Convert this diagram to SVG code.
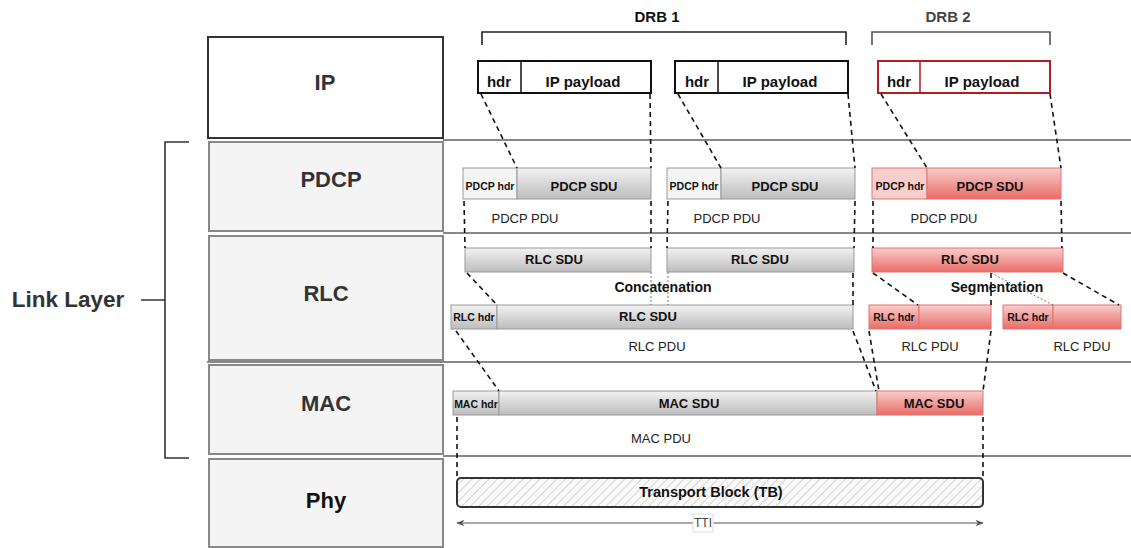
<svg xmlns="http://www.w3.org/2000/svg" width="1131" height="548" viewBox="0 0 1131 548">
<defs>
<linearGradient id="gGray" x1="0" y1="0" x2="0" y2="1"><stop offset="0" stop-color="#f2f2f2"/><stop offset="1" stop-color="#bdbdbd"/></linearGradient>
<linearGradient id="gRed" x1="0" y1="0" x2="0" y2="1"><stop offset="0" stop-color="#f8cecc"/><stop offset="1" stop-color="#ea6b66"/></linearGradient>
<pattern id="hatch" width="6" height="6" patternUnits="userSpaceOnUse" patternTransform="rotate(45)"><rect width="6" height="6" fill="#fafafa"/><line x1="0" y1="0" x2="0" y2="6" stroke="#c8c8c8" stroke-width="1.5"/></pattern>
<marker id="arr" viewBox="0 0 10 10" refX="9" refY="5" markerWidth="7" markerHeight="7" orient="auto-start-reverse"><path d="M0,1 L10,5 L0,9 L3,5 Z" fill="#555"/></marker>
<style>
text{font-family:"Liberation Sans",Arial,sans-serif;text-anchor:middle;dominant-baseline:central;fill:#111}
.layer{fill:#f4f4f4;stroke:#888;stroke-width:2}
.lt{font-size:22px;font-weight:bold;fill:#333}
.sep{stroke:#888;stroke-width:2;fill:none}
.ipbox{fill:#fff;stroke:#111;stroke-width:2}
.ipred{fill:#fff;stroke:#b01e23;stroke-width:2}
.ipt{font-size:15px;font-weight:bold}
.g{fill:url(#gGray);stroke:#999;stroke-width:1}
.gh{fill:#f4f4f4;stroke:#999;stroke-width:1}
.r{fill:url(#gRed);stroke:#e07570;stroke-width:1}
.rh{fill:#f8cecc;stroke:#e07570;stroke-width:1}
.sdu{font-size:13px;font-weight:bold}
.hdr{font-size:10.5px;font-weight:bold}
.pdu{font-size:13px;fill:#222}
.dash{stroke:#111;stroke-width:1.6;stroke-dasharray:5 4;fill:none}
.dot{stroke:#555;stroke-width:0.8;stroke-dasharray:2 2;fill:none}
.brk{fill:none;stroke:#333;stroke-width:1.6}
</style>
</defs>

<g id="separators">
<line class="sep" x1="443" y1="140" x2="1131" y2="140"/>
<line class="sep" x1="443" y1="233" x2="1131" y2="233"/>
<line class="sep" x1="207" y1="362" x2="1131" y2="362"/>
<line class="sep" x1="443" y1="456" x2="1131" y2="456"/>
</g>

<g id="layer-ip"><rect x="208" y="37" width="235" height="101" fill="#fff" stroke="#333" stroke-width="2"/><text class="lt" x="325" y="82">IP</text></g>
<g id="layer-pdcp"><rect class="layer" x="209" y="142" width="234" height="89"/><text class="lt" x="331" y="179">PDCP</text></g>
<g id="layer-rlc"><rect class="layer" x="209" y="236" width="234" height="124"/><text class="lt" x="326" y="293">RLC</text></g>
<g id="layer-mac"><rect class="layer" x="209" y="365" width="234" height="89"/><text class="lt" x="326" y="403">MAC</text></g>
<g id="layer-phy"><rect class="layer" x="209" y="459" width="234" height="88"/><text class="lt" x="326" y="500" style="fill:#111">Phy</text></g>

<g id="link-layer">
<path class="brk" d="M189,142 H165 V458 H189 M141,300 H165"/>
<text x="68" y="299" style="font-size:22.5px;font-weight:bold;fill:#333">Link Layer</text>
</g>

<g id="drb1"><path class="brk" d="M482,45 V32 H846 V45" style="stroke:#222"/><text x="657" y="16" style="font-size:15px;font-weight:bold">DRB 1</text></g>
<g id="drb2"><path class="brk" d="M872,45 V32 H1050 V45" style="stroke:#555"/><text x="948" y="16" style="font-size:15px;font-weight:bold;fill:#444">DRB 2</text></g>

<g id="ip-packets">
<rect class="ipbox" x="478" y="61" width="173" height="32"/><line x1="521" y1="61" x2="521" y2="93" stroke="#111" stroke-width="1.5"/>
<text class="ipt" x="499" y="81">hdr</text><text class="ipt" x="583" y="81">IP payload</text>
<rect class="ipbox" x="675" y="61" width="173" height="32"/><line x1="718" y1="61" x2="718" y2="93" stroke="#111" stroke-width="1.5"/>
<text class="ipt" x="697" y="81">hdr</text><text class="ipt" x="780" y="81">IP payload</text>
<rect class="ipred" x="878" y="61" width="172" height="32"/><line x1="920" y1="61" x2="920" y2="93" stroke="#b01e23" stroke-width="1.5"/>
<text class="ipt" x="899" y="81">hdr</text><text class="ipt" x="982" y="81">IP payload</text>
</g>

<g id="pdcp-pdus">
<rect class="gh" x="463" y="168" width="54" height="31"/><rect class="g" x="517" y="168" width="134" height="31"/>
<text class="hdr" x="490" y="186">PDCP hdr</text><text class="sdu" x="584" y="186">PDCP SDU</text>
<rect class="gh" x="667" y="168" width="54" height="31"/><rect class="g" x="721" y="168" width="134" height="31"/>
<text class="hdr" x="694" y="186">PDCP hdr</text><text class="sdu" x="785" y="186">PDCP SDU</text>
<rect class="rh" x="872" y="168" width="55" height="31"/><rect class="r" x="927" y="168" width="134" height="31"/>
<text class="hdr" x="900" y="186">PDCP hdr</text><text class="sdu" x="990" y="186">PDCP SDU</text>
<text class="pdu" x="525" y="218">PDCP PDU</text>
<text class="pdu" x="727" y="218">PDCP PDU</text>
<text class="pdu" x="944" y="218">PDCP PDU</text>
</g>

<g id="rlc-sdus">
<rect class="g" x="465" y="248" width="186" height="24"/><text class="sdu" x="554" y="259">RLC SDU</text>
<rect class="g" x="667" y="248" width="187" height="24"/><text class="sdu" x="760" y="259">RLC SDU</text>
<rect class="r" x="872" y="248" width="191" height="24"/><text class="sdu" x="970" y="259">RLC SDU</text>
<text x="663" y="287" style="font-size:14px;font-weight:bold">Concatenation</text>
<text x="997" y="287" style="font-size:14px;font-weight:bold">Segmentation</text>
</g>

<g id="rlc-pdus">
<rect class="g" x="451" y="305" width="46" height="24"/><rect class="g" x="497" y="305" width="356" height="24"/>
<text class="hdr" x="474" y="317">RLC hdr</text><text class="sdu" x="648" y="316">RLC SDU</text>
<rect class="r" x="869" y="305" width="50" height="24"/><rect class="r" x="919" y="305" width="72" height="24"/>
<text class="hdr" x="894" y="317">RLC hdr</text>
<rect class="r" x="1003" y="305" width="50" height="24"/><rect class="r" x="1053" y="305" width="68" height="24"/>
<text class="hdr" x="1028" y="317">RLC hdr</text>
<text class="pdu" x="657" y="346">RLC PDU</text>
<text class="pdu" x="930" y="346">RLC PDU</text>
<text class="pdu" x="1082" y="346">RLC PDU</text>
</g>

<g id="mac-pdu">
<rect class="g" x="453" y="391" width="46" height="24"/><rect class="g" x="499" y="391" width="378" height="24"/><rect class="r" x="877" y="391" width="106" height="24"/>
<text class="hdr" x="476" y="404">MAC hdr</text><text class="sdu" x="689" y="403">MAC SDU</text><text class="sdu" x="934" y="403">MAC SDU</text>
<text class="pdu" x="661" y="438">MAC PDU</text>
</g>

<g id="transport-block">
<rect x="457" y="478" width="526" height="29" rx="4" fill="url(#hatch)" stroke="#333" stroke-width="2"/>
<text x="711" y="492" style="font-size:14.5px;font-weight:bold">Transport Block (TB)</text>
</g>

<g id="connectors">
<line class="dash" x1="481" y1="94" x2="517" y2="168"/><line class="dash" x1="650" y1="94" x2="651" y2="168"/>
<line class="dash" x1="678" y1="94" x2="721" y2="168"/><line class="dash" x1="848" y1="94" x2="855" y2="168"/>
<line class="dash" x1="881" y1="94" x2="927" y2="168"/><line class="dash" x1="1050" y1="94" x2="1061" y2="168"/>
<line class="dash" x1="464" y1="201" x2="465" y2="248"/><line class="dash" x1="651" y1="201" x2="651" y2="248"/>
<line class="dash" x1="668" y1="201" x2="667" y2="248"/><line class="dash" x1="855" y1="201" x2="854" y2="248"/>
<line class="dash" x1="873" y1="201" x2="873" y2="248"/><line class="dash" x1="1061" y1="201" x2="1062" y2="248"/>
<line class="dot" x1="651" y1="272" x2="651" y2="305"/><line class="dot" x1="668" y1="272" x2="668" y2="305"/>
<line class="dash" x1="467" y1="273" x2="497" y2="305"/><line class="dash" x1="853" y1="273" x2="853" y2="305"/>
<line class="dash" x1="873" y1="273" x2="918" y2="305"/><line class="dash" x1="991" y1="273" x2="991" y2="305"/>
<line class="dot" x1="991" y1="273" x2="1053" y2="305"/><line class="dash" x1="1063" y1="273" x2="1119" y2="305"/>
<line class="dash" x1="456" y1="331" x2="499" y2="391"/><line class="dash" x1="853" y1="331" x2="876" y2="391"/>
<line class="dash" x1="869" y1="331" x2="879" y2="391"/><line class="dash" x1="991" y1="331" x2="983" y2="391"/>
<line class="dash" x1="457" y1="417" x2="457" y2="478"/><line class="dash" x1="983" y1="417" x2="983" y2="478"/>
<line x1="457" y1="523" x2="983" y2="523" stroke="#555" stroke-width="1.2" marker-start="url(#arr)" marker-end="url(#arr)"/>
<rect x="693" y="514" width="20" height="18" fill="#fff" stroke="#ddd" stroke-width="1"/>
<text x="703" y="523" style="font-size:12px;fill:#444">TTI</text>
</g>
</svg>
